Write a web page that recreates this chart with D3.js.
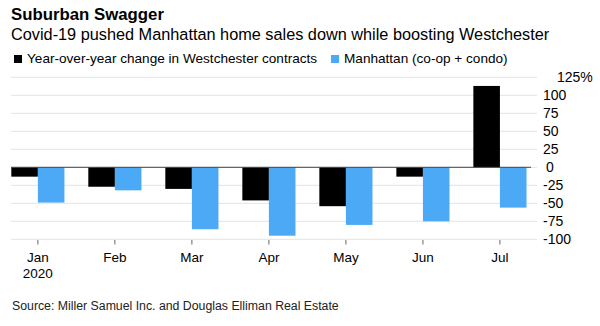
<!DOCTYPE html>
<html>
<head>
<meta charset="utf-8">
<script src="https://cdn.jsdelivr.net/npm/d3@7"></script>
<style>
  body { margin: 0; background: #fff; }
  svg { font-family: "Liberation Sans", Arial, sans-serif; }
</style>
</head>
<body>
<div class="chart"></div>
<script>
var months = ['Jan', 'Feb', 'Mar', 'Apr', 'May', 'Jun', 'Jul'];
var westchester = [-13, -27, -30, -46, -54, -13, 113];
var manhattan = [-49, -32, -86, -95, -80, -75, -56];
var yTicks = [125, 100, 75, 50, 25, 0, -25, -50, -75, -100];

var seriesNames = ['Year-over-year change in Westchester contracts', 'Manhattan (co-op + condo)'];
var colors = ['#000000', '#4ba9f5'];

var width = 600, height = 326;

var svg = d3.select(".chart")
    .append("svg")
    .attr("width", width)
    .attr("height", height)

var x = d3.scaleBand()
    .domain(months)
    .range([11.3, 526.5])
    .paddingInner(0.31)
    .paddingOuter(0);

var xSub = d3.scaleBand()
    .domain([0, 1])
    .range([0, x.bandwidth()]);

var y = d3.scaleLinear()
    .domain([-100, 125])
    .range([239.3, 77.3]);

// gridlines
svg.append("g")
    .selectAll("line")
    .data(yTicks)
    .enter().append("line")
    .attr("x1", 11)
    .attr("x2", 537)
    .attr("y1", function(d) { return y(d); })
    .attr("y2", function(d) { return y(d); })
    .attr("stroke", "#e3e3e3")
    .attr("stroke-width", 1);

// y tick labels
svg.append("g")
    .selectAll("text")
    .data(yTicks)
    .enter().append("text")
    .attr("x", function(d) { return d == 125 ? 557 : (d == 0 ? 546 : 543); })
    .attr("y", function(d) { return y(d) + 5; })
    .attr("font-size", 14)
    .attr("fill", "#000")
    .text(function(d) { return d == 125 ? d + '%' : d; });

// bars
var data = months.map(function(m, i) {
    return { month: m, values: [westchester[i], manhattan[i]] };
});

var group = svg.selectAll(".month")
    .data(data)
    .enter().append("g")
    .attr("class", "month")
    .attr("transform", function(d) { return "translate(" + x(d.month) + ",0)"; });

group.selectAll("rect")
    .data(function(d) { return d.values; })
    .enter().append("rect")
    .attr("x", function(d, i) { return xSub(i); })
    .attr("width", xSub.bandwidth())
    .attr("y", function(d) { return y(Math.max(0, d)); })
    .attr("height", function(d) { return Math.abs(y(d) - y(0)); })
    .attr("fill", function(d, i) { return colors[i]; });

// zero line
svg.append("line")
    .attr("x1", 11)
    .attr("x2", 531)
    .attr("y1", y(0))
    .attr("y2", y(0))
    .attr("stroke", "#444")
    .attr("stroke-width", 1);

// x axis ticks + labels
var xAxis = svg.append("g");
xAxis.selectAll("line")
    .data(months)
    .enter().append("line")
    .attr("x1", function(d) { return x(d) + x.bandwidth() / 2; })
    .attr("x2", function(d) { return x(d) + x.bandwidth() / 2; })
    .attr("y1", 240)
    .attr("y2", 244.5)
    .attr("stroke", "#666");

xAxis.selectAll("text")
    .data(months)
    .enter().append("text")
    .attr("x", function(d) { return x(d) + x.bandwidth() / 2; })
    .attr("y", 262)
    .attr("text-anchor", "middle")
    .attr("font-size", 13.5)
    .text(function(d) { return d; });

svg.append("text")
    .attr("x", x('Jan') + x.bandwidth() / 2)
    .attr("y", 278)
    .attr("text-anchor", "middle")
    .attr("font-size", 13.5)
    .text("2020");

// title & subtitle
svg.append("text")
    .attr("x", 11)
    .attr("y", 20)
    .attr("font-size", 16.8)
    .attr("font-weight", "bold")
    .text("Suburban Swagger");

svg.append("text")
    .attr("x", 11)
    .attr("y", 39.5)
    .attr("font-size", 16.3)
    .text("Covid-19 pushed Manhattan home sales down while boosting Westchester");

// legend
var legendX = [14, 331];
var legendRow = svg.selectAll(".legendRow")
    .data(seriesNames)
    .enter().append("g")
    .attr("class", "legendRow")
    .attr("transform", function(d, i) { return "translate(" + legendX[i] + ",0)"; });

legendRow.append("rect")
    .attr("x", 0)
    .attr("y", 55)
    .attr("width", 8)
    .attr("height", 8)
    .attr("fill", function(d, i) { return colors[i]; });

legendRow.append("text")
    .attr("x", 13)
    .attr("y", 62.7)
    .attr("font-size", 13.6)
    .text(function(d) { return d; });

// source
svg.append("text")
    .attr("x", 12)
    .attr("y", 310)
    .attr("font-size", 12.3)
    .attr("fill", "#222")
    .text("Source: Miller Samuel Inc. and Douglas Elliman Real Estate");
</script>
</body>
</html>
